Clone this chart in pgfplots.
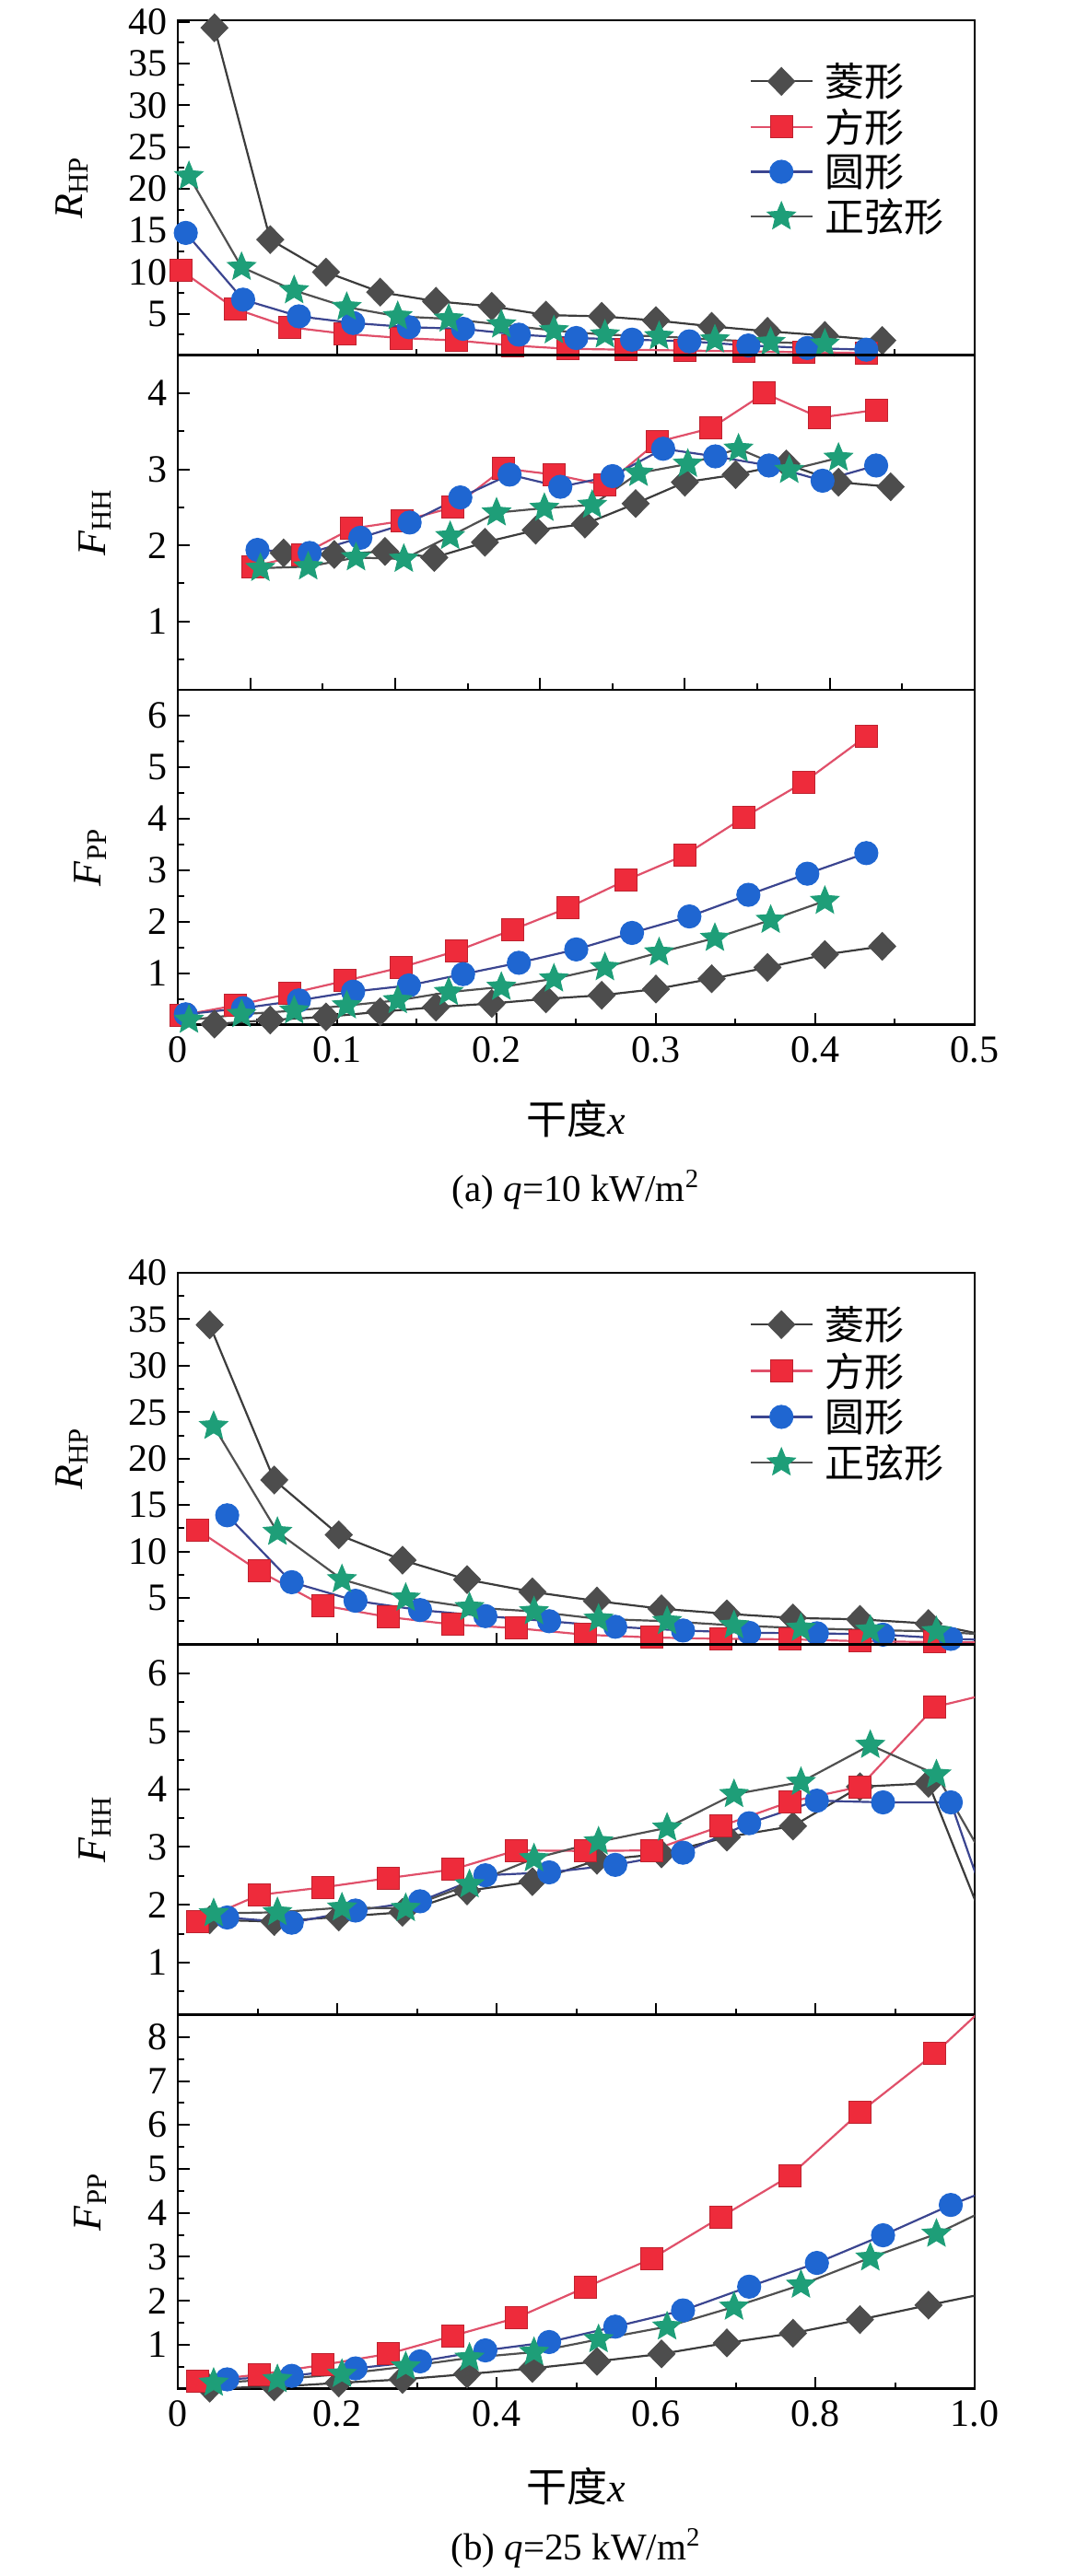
\documentclass[border=0pt]{standalone}
\usepackage{fontspec}
\setmainfont{Liberation Serif}
\newfontfamily\cjk{Noto Sans CJK SC}
\usepackage{pgfplots}
\pgfplotsset{compat=1.18}
\definecolor{cD}{HTML}{4D4D4D}
\definecolor{cDl}{HTML}{3C3C3C}
\definecolor{cS}{HTML}{EE2B3B}
\definecolor{cSl}{HTML}{E0506A}
\definecolor{cC}{HTML}{1F66D1}
\definecolor{cCl}{HTML}{3B4590}
\definecolor{cT}{HTML}{1E9E78}
\definecolor{cTl}{HTML}{505050}
\pgfdeclareplotmark{fstar}{%
  \pgfpathmoveto{\pgfpointpolar{90}{\pgfplotmarksize}}%
  \pgfpathlineto{\pgfpointpolar{126}{0.45\pgfplotmarksize}}%
  \pgfpathlineto{\pgfpointpolar{162}{\pgfplotmarksize}}%
  \pgfpathlineto{\pgfpointpolar{198}{0.45\pgfplotmarksize}}%
  \pgfpathlineto{\pgfpointpolar{234}{\pgfplotmarksize}}%
  \pgfpathlineto{\pgfpointpolar{270}{0.45\pgfplotmarksize}}%
  \pgfpathlineto{\pgfpointpolar{306}{\pgfplotmarksize}}%
  \pgfpathlineto{\pgfpointpolar{342}{0.45\pgfplotmarksize}}%
  \pgfpathlineto{\pgfpointpolar{18}{\pgfplotmarksize}}%
  \pgfpathlineto{\pgfpointpolar{54}{0.45\pgfplotmarksize}}%
  \pgfpathclose
  \pgfusepathqfillstroke
}
\pgfplotsset{
  sD/.style={color=cDl, line width=1.1pt, mark=diamond*, mark size=7.5pt, mark options={solid, fill=cD, draw=cD, xscale=1.3, line width=0.5pt}},
  sS/.style={color=cSl, line width=1.1pt, mark=square*, mark size=6pt, mark options={solid, fill=cS, draw=cS!80!black, line width=0.5pt}},
  sC/.style={color=cCl, line width=1.1pt, mark=*, mark size=6.3pt, mark options={solid, fill=cC, draw=cC, line width=0.5pt}},
  sT/.style={color=cTl, line width=1.1pt, mark=fstar, mark size=8pt, mark options={solid, fill=cT, draw=cT, line width=0.5pt}},
  lD/.style={color=cDl, line width=1.1pt, no marks, forget plot},
  lS/.style={color=cSl, line width=1.1pt, no marks, forget plot},
  lC/.style={color=cCl, line width=1.1pt, no marks, forget plot},
  lT/.style={color=cTl, line width=1.1pt, no marks, forget plot},
  every axis/.append style={
    scale only axis, width=432.5pt, anchor=north west,
    axis line style={line width=1.3pt},
    tick style={line width=1pt, black},
    major tick length=6.5pt, minor tick length=3.5pt,
    tick align=inside, tick pos=left,
    tick label style={font=\fontsize{21}{21}\selectfont},
    yticklabel style={xshift=-2pt},
    xticklabel style={yshift=-3pt},
    /pgf/number format/assume math mode=true,
    label style={font=\fontsize{22}{22}\selectfont},
    legend image code/.code={\draw[mark repeat=2,mark phase=2] plot coordinates {(0pt,0pt) (16.75pt,0pt) (33.5pt,0pt)};},
  },
}
\begin{document}
\begin{tikzpicture}
\path[use as bounding box] (0,0) rectangle (590.5pt,-1398.5pt);
% ---------------- (a) panel 1
\begin{axis}[at={(96.5pt,-11pt)}, height=182pt,
  xmin=0, xmax=0.5, ymin=0, ymax=40.2,
  xtick={0.1,0.2,0.3,0.4}, minor xtick={0.05,0.15,0.25,0.35,0.45}, xticklabels={},
  ytick={5,10,15,20,25,30,35,40}, minor ytick={2.5,7.5,12.5,17.5,22.5,27.5,32.5,37.5},
  ylabel={\textit{R}\textsubscript{HP}},
  ylabel style={at={([xshift=-57.5pt]axis description cs:0,0.5)}, anchor=center},
  legend cell align=left,
  legend style={draw=none, fill=none, at={(axis description cs:0.717,0.8725)}, anchor=north west, inner sep=0pt, row sep=5pt, column sep=6.5pt, font=\cjk\fontsize{21.5}{21.5}\selectfont, nodes={inner sep=0pt}},
]
\addplot[sD] coordinates {(0.023,39.3) (0.058,13.9) (0.093,10.0) (0.127,7.6) (0.162,6.5) (0.197,5.9) (0.231,4.85) (0.266,4.7) (0.300,4.2) (0.335,3.5) (0.370,2.9) (0.406,2.4) (0.442,1.8)};
\addplot[sS] coordinates {(0.002,10.2) (0.036,5.6) (0.070,3.4) (0.105,2.6) (0.140,2.1) (0.175,1.8) (0.210,1.2) (0.245,0.8) (0.281,0.7) (0.318,0.6) (0.355,0.5) (0.393,0.4) (0.432,0.3)};
\addplot[sC] coordinates {(0.005,14.7) (0.041,6.7) (0.076,4.7) (0.110,3.9) (0.145,3.4) (0.179,3.2) (0.214,2.5) (0.250,2.1) (0.285,1.9) (0.321,1.7) (0.358,1.2) (0.395,0.9) (0.432,0.7)};
\addplot[sT] coordinates {(0.007,21.5) (0.040,10.6) (0.073,7.8) (0.106,5.8) (0.138,4.7) (0.170,4.4) (0.203,3.7) (0.236,3.0) (0.268,2.5) (0.302,2.3) (0.337,1.9) (0.372,1.6) (0.406,1.4)};
\legend{菱形,方形,圆形,正弦形}
\end{axis}
% ---------------- (a) panel 2
\begin{axis}[at={(96.5pt,-192.85pt)}, height=181.65pt,
  xmin=-0.05, xmax=0.5, ymin=0.1, ymax=4.5,
  xtick={0,0.1,0.2,0.3,0.4}, minor xtick={0.05,0.15,0.25,0.35,0.45}, xticklabels={},
  ytick={1,2,3,4}, minor ytick={0.5,1.5,2.5,3.5},
  ylabel={\textit{F}\textsubscript{HH}},
  ylabel style={at={([xshift=-45pt]axis description cs:0,0.5)}, anchor=center},
]
\addplot[sD] coordinates {(0.023,1.90) (0.058,1.88) (0.093,1.92) (0.127,1.84) (0.162,2.04) (0.197,2.20) (0.231,2.28) (0.266,2.55) (0.300,2.83) (0.335,2.93) (0.370,3.07) (0.406,2.83) (0.442,2.77)};
\addplot[sS] coordinates {(0.002,1.72) (0.036,1.88) (0.070,2.22) (0.105,2.32) (0.140,2.50) (0.175,3.01) (0.210,2.93) (0.245,2.79) (0.281,3.36) (0.318,3.54) (0.355,4.00) (0.393,3.68) (0.432,3.78)};
\addplot[sC] coordinates {(0.005,1.94) (0.041,1.90) (0.076,2.10) (0.110,2.30) (0.145,2.63) (0.179,2.93) (0.214,2.77) (0.250,2.91) (0.285,3.27) (0.321,3.17) (0.358,3.05) (0.395,2.85) (0.432,3.05)};
\addplot[sT] coordinates {(0.007,1.70) (0.040,1.72) (0.073,1.84) (0.106,1.82) (0.138,2.12) (0.170,2.43) (0.203,2.49) (0.236,2.53) (0.268,2.95) (0.302,3.07) (0.337,3.27) (0.372,2.99) (0.406,3.15)};
\end{axis}
% ---------------- (a) panel 3
\begin{axis}[at={(96.5pt,-374.5pt)}, height=181.75pt,
  xmin=0, xmax=0.5, ymin=0, ymax=6.5,
  xtick={0,0.1,0.2,0.3,0.4,0.5}, xticklabels={0,0.1,0.2,0.3,0.4,0.5},
  minor xtick={0.05,0.15,0.25,0.35,0.45},
  ytick={1,2,3,4,5,6}, minor ytick={0.5,1.5,2.5,3.5,4.5,5.5},
  ylabel={\textit{F}\textsubscript{PP}},
  ylabel style={at={([xshift=-47.5pt]axis description cs:0,0.5)}, anchor=center},
  xlabel={{\cjk 干度}\textit{x}},
  xlabel style={at={(axis description cs:0.5,0)}, anchor=center, yshift=-51.25pt},
]
\addplot[sD] coordinates {(0.023,0.01) (0.058,0.09) (0.093,0.15) (0.127,0.25) (0.162,0.34) (0.197,0.41) (0.231,0.50) (0.266,0.57) (0.300,0.69) (0.335,0.89) (0.370,1.11) (0.406,1.36) (0.442,1.52)};
\addplot[sS] coordinates {(0.002,0.18) (0.036,0.37) (0.070,0.60) (0.105,0.85) (0.140,1.11) (0.175,1.43) (0.210,1.84) (0.245,2.27) (0.281,2.80) (0.318,3.29) (0.355,4.02) (0.393,4.71) (0.432,5.60)};
\addplot[sC] coordinates {(0.005,0.20) (0.041,0.32) (0.076,0.47) (0.110,0.64) (0.145,0.76) (0.179,0.98) (0.214,1.20) (0.250,1.46) (0.285,1.78) (0.321,2.10) (0.358,2.52) (0.395,2.93) (0.432,3.33)};
\addplot[sT] coordinates {(0.007,0.09) (0.040,0.20) (0.073,0.27) (0.106,0.37) (0.138,0.47) (0.170,0.63) (0.203,0.73) (0.236,0.89) (0.268,1.11) (0.302,1.40) (0.337,1.68) (0.372,2.03) (0.406,2.40)};
\end{axis}
\node[font=\fontsize{20.5}{20.5}\selectfont] at (312.5pt,-646pt) {(a) \textit{q}=10 kW/m\textsuperscript{2}};
% ---------------- (b) panel 1
\begin{axis}[at={(96.5pt,-691pt)}, height=201.75pt,
  xmin=0, xmax=1, ymin=0, ymax=40,
  xtick={0.2,0.4,0.6,0.8}, minor xtick={0.1,0.3,0.5,0.7,0.9}, xticklabels={},
  ytick={5,10,15,20,25,30,35,40}, minor ytick={2.5,7.5,12.5,17.5,22.5,27.5,32.5,37.5},
  ylabel={\textit{R}\textsubscript{HP}},
  ylabel style={at={([xshift=-57.5pt]axis description cs:0,0.5)}, anchor=center},
  legend cell align=left,
  legend style={draw=none, fill=none, at={(axis description cs:0.717,0.91)}, anchor=north west, inner sep=0pt, row sep=5.5pt, column sep=6.5pt, font=\cjk\fontsize{21.5}{21.5}\selectfont, nodes={inner sep=0pt}},
]
\addplot[sD] coordinates {(0.040,34.4) (0.121,17.7) (0.202,11.8) (0.282,9.07) (0.363,6.98) (0.445,5.66) (0.526,4.67) (0.607,3.84) (0.689,3.3) (0.772,2.85) (0.856,2.7) (0.942,2.25)};
\addplot[sS] coordinates {(0.025,12.3) (0.102,7.9) (0.182,4.2) (0.264,2.95) (0.345,2.15) (0.425,1.75) (0.511,1.05) (0.595,0.75) (0.682,0.6) (0.768,0.55) (0.856,0.35) (0.950,0.25)};
\addplot[sC] coordinates {(0.062,13.9) (0.143,6.7) (0.223,4.7) (0.304,3.7) (0.386,3.05) (0.466,2.5) (0.549,1.9) (0.634,1.5) (0.717,1.25) (0.802,1.2) (0.885,1.05) (0.970,0.6)};
\addplot[sT] coordinates {(0.045,23.5) (0.125,12.1) (0.206,7.0) (0.286,5.0) (0.366,4.0) (0.447,3.55) (0.528,2.75) (0.614,2.5) (0.698,2.05) (0.782,1.75) (0.869,1.55) (0.952,1.4)};
\addplot[lD] coordinates {(0.942,2.25) (1.023,0.85)};
\addplot[lS] coordinates {(0.950,0.25) (1.034,0.2)};
\addplot[lC] coordinates {(0.970,0.6) (1.05,0.4)};
\addplot[lT] coordinates {(0.952,1.4) (1.035,0.95)};
\legend{菱形,方形,圆形,正弦形}
\end{axis}
% ---------------- (b) panel 2
\begin{axis}[at={(96.5pt,-892.75pt)}, height=201pt,
  xmin=0, xmax=1, ymin=0.1, ymax=6.5,
  xtick={0.2,0.4,0.6,0.8}, minor xtick={0.1,0.3,0.5,0.7,0.9}, xticklabels={},
  ytick={1,2,3,4,5,6}, minor ytick={0.5,1.5,2.5,3.5,4.5,5.5},
  ylabel={\textit{F}\textsubscript{HH}},
  ylabel style={at={([xshift=-45pt]axis description cs:0,0.5)}, anchor=center},
]
\addplot[sD] coordinates {(0.040,1.74) (0.121,1.71) (0.202,1.79) (0.282,1.87) (0.363,2.24) (0.445,2.40) (0.526,2.77) (0.607,2.88) (0.689,3.17) (0.772,3.36) (0.856,4.04) (0.942,4.10)};
\addplot[sS] coordinates {(0.025,1.71) (0.102,2.17) (0.182,2.30) (0.264,2.46) (0.345,2.61) (0.425,2.94) (0.511,2.93) (0.595,2.94) (0.682,3.36) (0.768,3.78) (0.856,4.04) (0.950,5.42)};
\addplot[sC] coordinates {(0.062,1.78) (0.143,1.69) (0.223,1.90) (0.304,2.06) (0.386,2.51) (0.466,2.56) (0.549,2.69) (0.634,2.90) (0.717,3.41) (0.802,3.80) (0.885,3.77) (0.970,3.77)};
\addplot[sT] coordinates {(0.045,1.85) (0.125,1.87) (0.206,1.95) (0.286,1.94) (0.366,2.35) (0.447,2.80) (0.528,3.09) (0.614,3.33) (0.698,3.91) (0.782,4.12) (0.869,4.76) (0.952,4.25)};
\addplot[lD] coordinates {(0.942,4.10) (1.023,1.3)};
\addplot[lS] coordinates {(0.950,5.42) (1.034,5.7)};
\addplot[lC] coordinates {(0.970,3.77) (1.05,0.6)};
\addplot[lT] coordinates {(0.952,4.25) (1.035,2.24)};
\end{axis}
% ---------------- (b) panel 3
\begin{axis}[at={(96.5pt,-1094pt)}, height=202.75pt,
  xmin=0, xmax=1, ymin=0, ymax=8.5,
  xtick={0,0.2,0.4,0.6,0.8,1.0}, xticklabels={0,0.2,0.4,0.6,0.8,1.0},
  minor xtick={0.1,0.3,0.5,0.7,0.9},
  ytick={1,2,3,4,5,6,7,8}, minor ytick={0.5,1.5,2.5,3.5,4.5,5.5,6.5,7.5},
  ylabel={\textit{F}\textsubscript{PP}},
  ylabel style={at={([xshift=-47.5pt]axis description cs:0,0.5)}, anchor=center},
  xlabel={{\cjk 干度}\textit{x}},
  xlabel style={at={(axis description cs:0.5,0)}, anchor=center, yshift=-53pt},
]
\addplot[sD] coordinates {(0.040,0.01) (0.121,0.04) (0.202,0.13) (0.282,0.21) (0.363,0.33) (0.445,0.46) (0.526,0.62) (0.607,0.79) (0.689,1.04) (0.772,1.26) (0.856,1.57) (0.942,1.90)};
\addplot[sS] coordinates {(0.025,0.17) (0.102,0.32) (0.182,0.54) (0.264,0.79) (0.345,1.20) (0.425,1.61) (0.511,2.30) (0.595,2.96) (0.682,3.91) (0.768,4.84) (0.856,6.29) (0.950,7.63)};
\addplot[sC] coordinates {(0.062,0.21) (0.143,0.29) (0.223,0.46) (0.304,0.62) (0.386,0.87) (0.466,1.06) (0.549,1.41) (0.634,1.78) (0.717,2.32) (0.802,2.86) (0.885,3.49) (0.970,4.18)};
\addplot[sT] coordinates {(0.045,0.13) (0.125,0.21) (0.206,0.33) (0.286,0.50) (0.366,0.70) (0.447,0.83) (0.528,1.12) (0.614,1.41) (0.698,1.86) (0.782,2.36) (0.869,2.98) (0.952,3.52)};
\addplot[lD] coordinates {(0.942,1.90) (1.023,2.2)};
\addplot[lS] coordinates {(0.950,7.63) (1.034,9.05)};
\addplot[lC] coordinates {(0.970,4.18) (1.05,4.75)};
\addplot[lT] coordinates {(0.952,3.52) (1.035,4.25)};
\end{axis}
\node[font=\fontsize{20.5}{20.5}\selectfont] at (312.5pt,-1383.2pt) {(b) \textit{q}=25 kW/m\textsuperscript{2}};
\end{tikzpicture}
\end{document}
